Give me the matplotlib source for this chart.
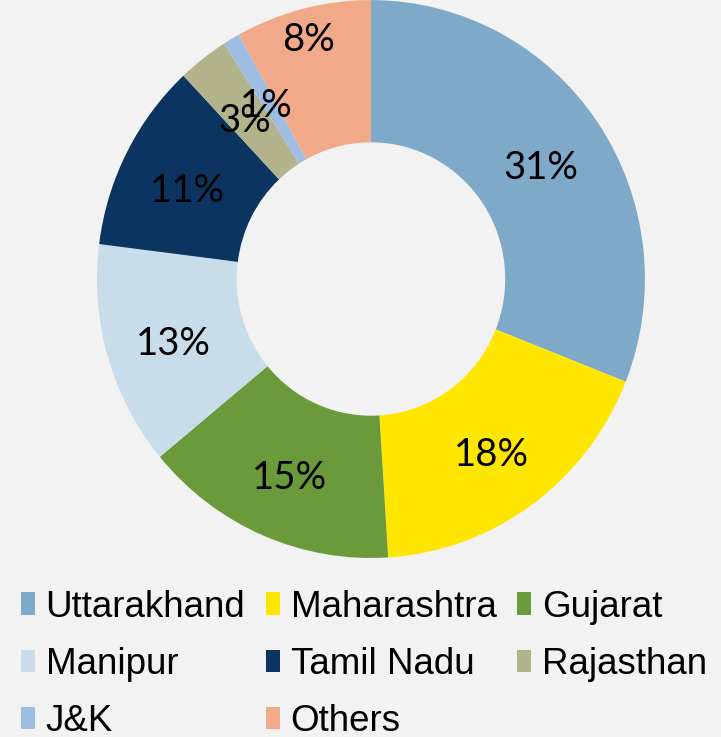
import matplotlib.pyplot as plt
import numpy as np
from matplotlib.patches import Patch

# Datos
states = ["Uttarakhand", "Maharashtra", "Gujarat", "Manipur",
          "Tamil Nadu", "Rajasthan", "J&K", "Others"]
shares = [31, 18, 15, 13, 11, 3, 1, 8]
colors = ["#7FA9C8", "#FFE600", "#6A9A3A", "#C9DCEA",
          "#0B3560", "#B2B38A", "#9DBDE2", "#F2A98A"]

bg = "#F2F2F2"
label_font = ["Lato", "DejaVu Sans"]
legend_font = ["Liberation Sans", "DejaVu Sans"]

fig = plt.figure(figsize=(7.21, 7.37), dpi=100, facecolor=bg)
ax = fig.add_axes([0.1345, 0.2429, 0.760, 0.757])
ax.set_facecolor(bg)

wedges, _ = ax.pie(shares, colors=colors, startangle=90, counterclock=False,
                   radius=1.0, wedgeprops=dict(width=0.51, edgecolor="none"))
ax.set_xlim(-1, 1)
ax.set_ylim(-1, 1)
ax.set_aspect("auto")

# Etiquetas en el centro del anillo (Others desplazado hacia afuera)
for w, val, name in zip(wedges, shares, states):
    ang = np.deg2rad((w.theta1 + w.theta2) / 2)
    r = 0.91 if name == "Others" else 0.75
    ax.annotate(f"{val}%", xy=(r * np.cos(ang), r * np.sin(ang)),
                xytext=(0, -5), textcoords="offset points",
                ha="center", va="center", fontsize=27.5,
                family=label_font, color="black")

# Leyenda en filas (matplotlib llena por columnas, se reordena)
order = [0, 3, 6, 1, 4, 7, 2, 5]
handles = [Patch(facecolor=colors[i], edgecolor="none") for i in order]
labels = [states[i] for i in order]
fig.legend(handles, labels, loc="upper left", bbox_to_anchor=(0.003, 0.225),
           ncol=3, frameon=False, prop=dict(family=legend_font, size=26.5),
           handlelength=0.4, handleheight=0.55, handletextpad=0.28,
           columnspacing=0.55, labelspacing=0.6, borderpad=0)

fig.savefig("out.png", dpi=100, facecolor=bg)
